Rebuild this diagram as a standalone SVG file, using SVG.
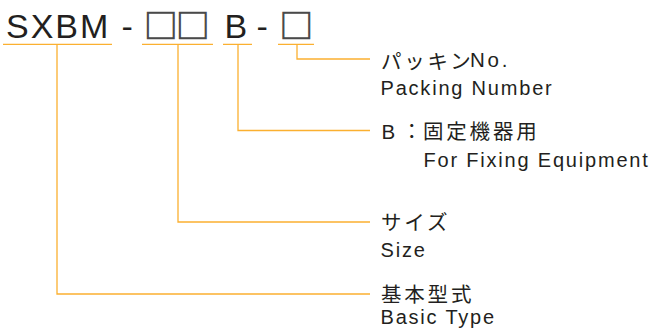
<svg xmlns="http://www.w3.org/2000/svg" width="651" height="329" viewBox="0 0 651 329">
<style>
.code{font-family:"Liberation Sans",Arial,sans-serif;font-size:34px;fill:#231f20;letter-spacing:2px}
.box{font-family:"DejaVu Sans",sans-serif;font-size:36.5px;fill:#4a4a4a;text-anchor:middle}
.jp{font-family:"Liberation Sans","Noto Sans CJK JP",sans-serif;font-size:20.5px;fill:#231f20;letter-spacing:2.8px}
.en{font-family:"Liberation Sans",Arial,sans-serif;font-size:20px;fill:#231f20;letter-spacing:1.8px}
.ln{fill:none;stroke:#fbb030;stroke-width:1.3}
</style>
<g id="code">
<text class="code" x="6" y="38.3">SXBM</text>
<text class="code" x="121.5" y="38.3">-</text>
<text class="box" x="161" y="35.2">□</text>
<text class="box" x="193" y="35.2">□</text>
<text class="code" x="224.5" y="38.3">B</text>
<text class="code" x="256.5" y="38.3">-</text>
<text class="box" x="296.4" y="35.2">□</text>
</g>
<g id="connectors">
<path class="ln" d="M3 44.3H112M142 44.3H213M223 44.3H252M278 44.3H314"/>
<path class="ln" d="M297 44.3V59H370"/>
<path class="ln" d="M238 44.3V130.5H370"/>
<path class="ln" d="M178 44.3V222H370"/>
<path class="ln" d="M57 44.3V294H370"/>
</g>
<g id="packing">
<text class="jp" x="381" y="68.5">パッキン<tspan x="470" y="67">No.</tspan></text>
<text class="en" x="380.5" y="95">Packing Number</text>
</g>
<g id="fixing">
<text class="jp" x="381.5" y="139">B<tspan x="401.5" style="letter-spacing:0">：</tspan><tspan x="423">固定機器用</tspan></text>
<text class="en" x="423.5" y="167">For Fixing Equipment</text>
</g>
<g id="size">
<text class="jp" x="381" y="230">サイズ</text>
<text class="en" x="380.5" y="257">Size</text>
</g>
<g id="basic">
<text class="jp" x="381" y="301.5">基本型式</text>
<text class="en" x="380.5" y="324">Basic Type</text>
</g>
</svg>
